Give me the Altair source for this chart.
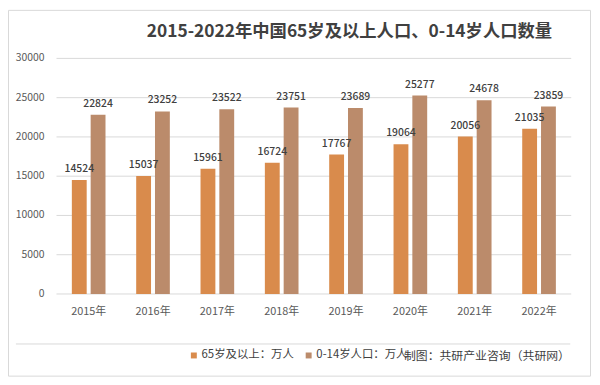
import altair as alt
import pandas as pd

years = ["2015年", "2016年", "2017年", "2018年", "2019年", "2020年", "2021年", "2022年"]
series_names = ["65岁及以上：万人", "0-14岁人口：万人"]
old_values = [14524, 15037, 15961, 16724, 17767, 19064, 20056, 21035]
young_values = [22824, 23252, 23522, 23751, 23689, 25277, 24678, 23859]
y_ticks = [0, 5000, 10000, 15000, 20000, 25000, 30000]
title_text = "2015-2022年中国65岁及以上人口、0-14岁人口数量"
credit_text = "制图：共研产业咨询（共研网）"
colors = ["#D98B4C", "#BB8B6B"]

rows = []
for y, a, b in zip(years, old_values, young_values):
    rows.append({"year": y, "series": series_names[0], "value": a})
    rows.append({"year": y, "series": series_names[1], "value": b})
df = pd.DataFrame(rows)
ticks_df = pd.DataFrame({"value": y_ticks})

FONT = "Noto Sans CJK SC"

x_axis = alt.Axis(title=None, labelAngle=0, domain=False, ticks=False, grid=False,
                  labelPadding=12, labelFontSize=11, labelColor="#595959",
                  labelFont=FONT)
x_scale = alt.Scale(paddingInner=0, paddingOuter=0)
y_scale = alt.Scale(domain=[0, 30000], nice=False)
xoff = alt.XOffset("series:N", sort=series_names,
                   scale=alt.Scale(paddingInner=0.2105, paddingOuter=0.8158))

base = alt.Chart(df)

grid = alt.Chart(ticks_df).mark_rule(color="#D9D9D9", strokeWidth=1).encode(
    y=alt.Y("value:Q", scale=y_scale, axis=None),
    x=alt.value(0), x2=alt.value(520),
)

ylabels = alt.Chart(ticks_df).mark_text(align="right", baseline="middle", fontSize=10.5,
                                        font=FONT, color="#595959").encode(
    y=alt.Y("value:Q", scale=y_scale, axis=None),
    x=alt.value(-12),
    text=alt.Text("value:Q", format="d"),
)

bars = base.mark_bar().encode(
    x=alt.X("year:N", sort=years, scale=x_scale, axis=x_axis),
    xOffset=xoff,
    y=alt.Y("value:Q", scale=y_scale, axis=None),
    color=alt.Color("series:N", sort=series_names,
                    scale=alt.Scale(domain=series_names, range=colors),
                    legend=alt.Legend(title=None, orient="none", legendX=133, legendY=294,
                                      direction="horizontal", symbolType="square",
                                      symbolSize=36, symbolStrokeWidth=0,
                                      labelFontSize=11.5, labelFont=FONT,
                                      labelColor="#404040", labelOffset=2,
                                      columnPadding=9, padding=0)),
)

labels = base.mark_text(baseline="bottom", dy=-6, fontSize=10.5, font=FONT,
                        color="#404040", fontWeight=500).encode(
    x=alt.X("year:N", sort=years, scale=x_scale, axis=x_axis),
    xOffset=xoff,
    y=alt.Y("value:Q", scale=y_scale, axis=None),
    text=alt.Text("value:Q", format="d"),
)

one = alt.Data(values=[{"a": 1}])

title = alt.Chart(one).mark_text(text=title_text, fontSize=17.5, fontWeight="bold",
                                 font=FONT, color="#404040", align="center",
                                 baseline="middle").encode(
    x=alt.value(296), y=alt.value(-27))

credit = alt.Chart(one).mark_text(text=credit_text, fontSize=12, font=FONT,
                                  color="#404040", align="left",
                                  baseline="middle").encode(
    x=alt.value(351), y=alt.value(301))

sep = alt.Chart(one).mark_rule(color="#D9D9D9", strokeWidth=1).encode(
    x=alt.value(-41), x2=alt.value(519), y=alt.value(288.5))

border = alt.Chart(one).mark_rect(fill=None, stroke="#D9D9D9", strokeWidth=1).encode(
    x=alt.value(-48.5), x2=alt.value(539.5), y=alt.value(-48.5), y2=alt.value(321))

chart = alt.layer(border, sep, grid, ylabels, bars, labels, title, credit).properties(
    width=520, height=238,
    autosize=alt.AutoSizeParams(type="none"),
    padding={"left": 49, "top": 49, "right": 21, "bottom": 85},
    background="white",
).configure_view(stroke=None)

chart.save("out.html", embed_options={"renderer": "svg", "actions": False})
